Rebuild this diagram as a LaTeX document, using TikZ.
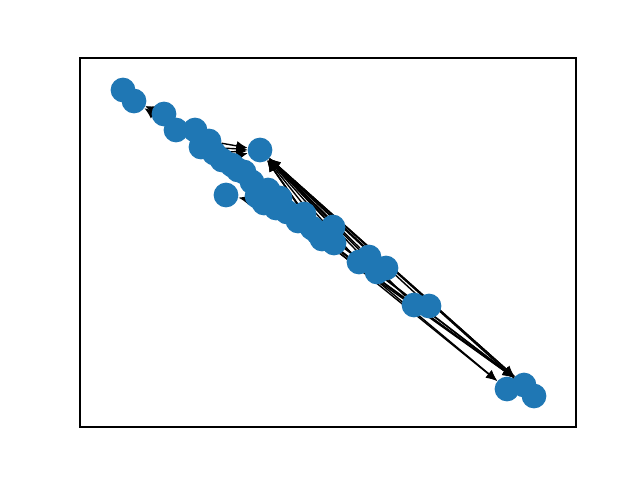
\documentclass[tikz,border=0pt]{standalone}
\usepackage{xcolor}
\usepackage{tikz}
\usetikzlibrary{arrows.meta,backgrounds}
\definecolor{nodeblue}{HTML}{1F77B4}
\tikzset{
  graphNode/.style={circle, fill=nodeblue, inner sep=0pt, minimum size=17.8pt},
  graphEdge/.style={black, line width=1pt, -{Latex[length=8pt,width=7pt]}},
  axesFrame/.style={black, line width=0.8pt}
}
\begin{document}
\begin{tikzpicture}[x=0.72pt, y=-0.72pt]
  \useasboundingbox (0,0) rectangle (640,480);
  \draw[axesFrame] (80,58) rectangle (576,427);

  % nodes, in pixel coordinates of the figure
  \node[graphNode] (n1) at (123,90) {};
  \node[graphNode] (n2) at (134,101) {};
  \node[graphNode] (n3) at (164,114) {};
  \node[graphNode] (n4) at (176,130) {};
  \node[graphNode] (n5) at (195,130) {};
  \node[graphNode] (n6) at (209,141) {};
  \node[graphNode] (n7) at (201,147) {};
  \node[graphNode] (n8) at (214,153) {};
  \node[graphNode] (n9) at (222,160) {};
  \node[graphNode] (n10) at (232,165) {};
  \node[graphNode] (n11) at (260,150) {};
  \node[graphNode] (n12) at (226,195) {};
  \node[graphNode] (n13) at (244,172) {};
  \node[graphNode] (n14) at (252,182) {};
  \node[graphNode] (n15) at (264,203) {};
  \node[graphNode] (n16) at (268,190) {};
  \node[graphNode] (n17) at (280,198) {};
  \node[graphNode] (n18) at (287,212) {};
  \node[graphNode] (n19) at (298,221) {};
  \node[graphNode] (n20) at (312,228) {};
  \node[graphNode] (n21) at (322,239) {};
  \node[graphNode] (n22) at (333,227) {};
  \node[graphNode] (n23) at (334,243) {};
  \node[graphNode] (n24) at (359,262) {};
  \node[graphNode] (n25) at (369,257) {};
  \node[graphNode] (n26) at (377,272) {};
  \node[graphNode] (n27) at (386,268) {};
  \node[graphNode] (n28) at (414,305) {};
  \node[graphNode] (n29) at (429,306) {};
  \node[graphNode] (n30) at (507,389) {};
  \node[graphNode] (n31) at (524,385) {};
  \node[graphNode] (n32) at (534,396) {};
  \node[graphNode] (n33) at (257,196) {};
  \node[graphNode] (n34) at (276,208) {};
  \node[graphNode] (n35) at (304,214) {};
  \node[graphNode] (n36) at (318,233) {};
  \node[graphNode] (n37) at (238,170) {};

  % edges behind the nodes
  \begin{pgfonlayer}{background}
    \draw[graphEdge] (n3) -- (n2);
    \draw[graphEdge] (n4) -- (n2);
    \draw[graphEdge] (n5) -- (n2);
    \draw[graphEdge] (n6) -- (n11);
    \draw[graphEdge] (n7) -- (n11);
    \draw[graphEdge] (n8) -- (n11);
    \draw[graphEdge] (n9) -- (n11);
    \draw[graphEdge] (n21) -- (n11);
    \draw[graphEdge] (n22) -- (n11);
    \draw[graphEdge] (n23) -- (n11);
    \draw[graphEdge] (n24) -- (n11);
    \draw[graphEdge] (n25) -- (n11);
    \draw[graphEdge] (n26) -- (n11);
    \draw[graphEdge] (n27) -- (n11);
    \draw[graphEdge] (n28) -- (n11);
    \draw[graphEdge] (n29) -- (n11);
    \draw[graphEdge] (n31) -- (n11);
    \draw[graphEdge] (n32) -- (n11);
    \draw[graphEdge] (n35) -- (n11);
    \draw[graphEdge] (n36) -- (n11);
    \draw[graphEdge] (n15) -- (n12);
    \draw[graphEdge] (n14) -- (n30);
    \draw[graphEdge] (n16) -- (n30);
    \draw[graphEdge] (n11) -- (n31);
    \draw[graphEdge] (n13) -- (n31);
    \draw[graphEdge] (n17) -- (n31);
    \draw[graphEdge] (n18) -- (n31);
    \draw[graphEdge] (n19) -- (n31);
    \draw[graphEdge] (n34) -- (n31);
  \end{pgfonlayer}
\end{tikzpicture}
\end{document}
